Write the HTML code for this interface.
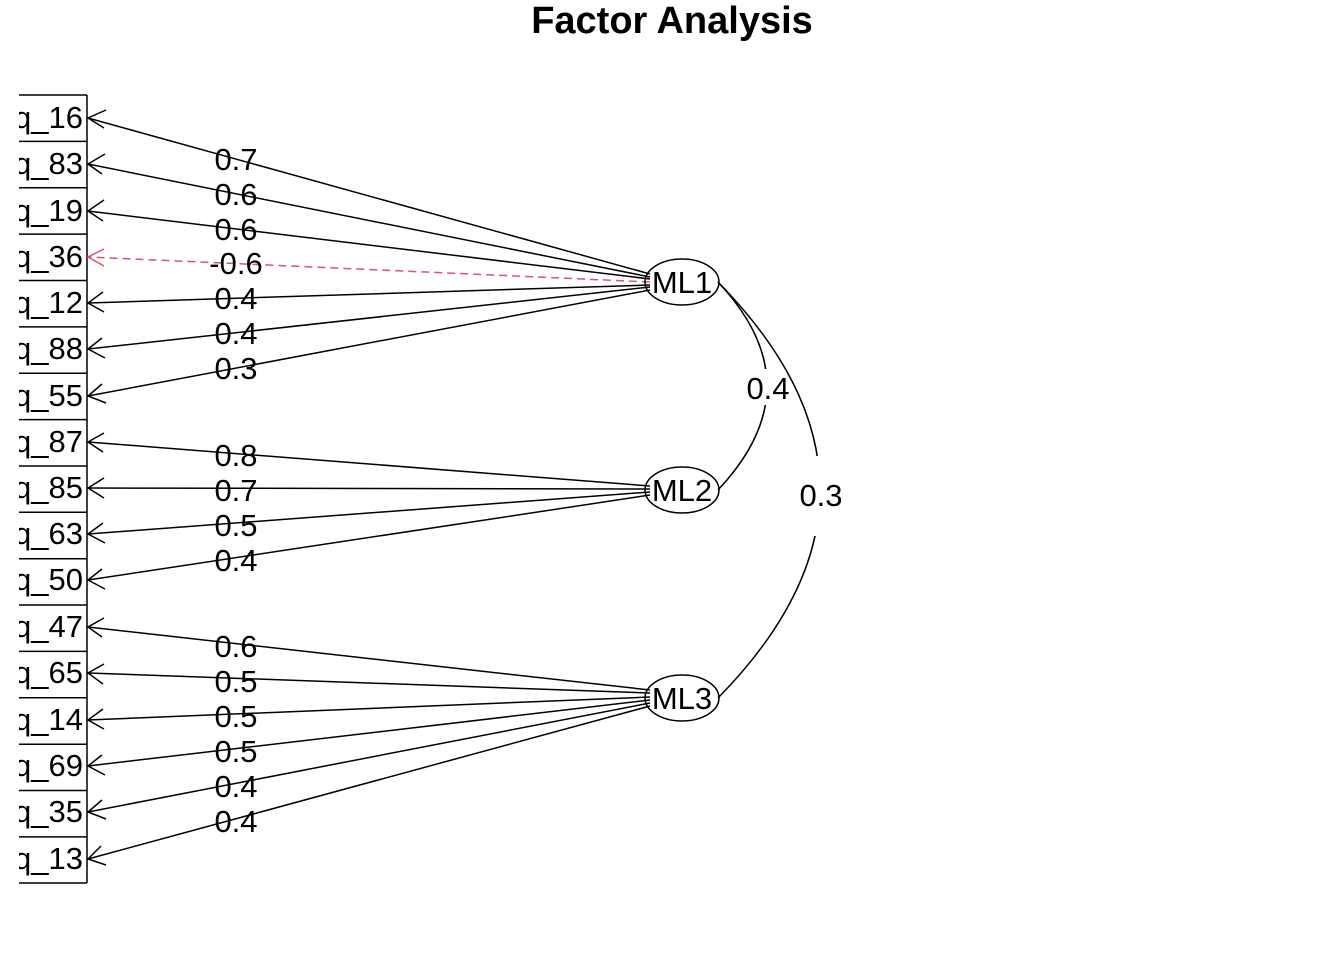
<!DOCTYPE html>
<html><head><meta charset="utf-8"><style>
html,body{margin:0;padding:0;background:#fff;}
svg{display:block;}
text{font-family:"Liberation Sans",Arial,sans-serif;}
</style></head><body>
<svg width="1344" height="960" viewBox="0 0 1344 960" xmlns="http://www.w3.org/2000/svg">
<defs>
<clipPath id="c"><rect x="19" y="0" width="1325" height="960"/></clipPath>
</defs>
<text x="672" y="33" text-anchor="middle" font-size="38" font-weight="bold">Factor Analysis</text>
<g stroke="#000" stroke-width="1.5" fill="none">
<line x1="87" y1="95" x2="87" y2="883"/>
<path d="M19 95H87M19 141.4H87M19 187.8H87M19 234.1H87M19 280.5H87M19 326.9H87M19 373.2H87M19 419.6H87M19 466H87M19 512.3H87M19 558.7H87M19 605H87M19 651.4H87M19 697.8H87M19 744.2H87M19 790.5H87M19 836.9H87M19 883H87"/>
</g>
<g clip-path="url(#c)" font-size="31" text-anchor="end">
<text x="83" y="128">q_16</text>
<text x="83" y="174">q_83</text>
<text x="83" y="221">q_19</text>
<text x="83" y="267">q_36</text>
<text x="83" y="313">q_12</text>
<text x="83" y="359">q_88</text>
<text x="83" y="406">q_55</text>
<text x="83" y="452">q_87</text>
<text x="83" y="498">q_85</text>
<text x="83" y="544">q_63</text>
<text x="83" y="590">q_50</text>
<text x="83" y="637">q_47</text>
<text x="83" y="683">q_65</text>
<text x="83" y="730">q_14</text>
<text x="83" y="776">q_69</text>
<text x="83" y="822">q_35</text>
<text x="83" y="869">q_13</text>
</g>
<g stroke="#000" stroke-width="1.5" fill="none">
<line x1="650" y1="274" x2="88" y2="118"/><path d="M106 110L88 118L104 128"/>
<line x1="650" y1="277" x2="88" y2="164"/><path d="M105 154L88 164L102 174"/>
<line x1="650" y1="279" x2="88" y2="211"/><path d="M104 200L88 211L103 221"/>
<line x1="650" y1="285" x2="88" y2="303"/><path d="M103 292L88 303L104 312"/>
<line x1="650" y1="287" x2="88" y2="349"/><path d="M102 338L88 349L105 358"/>
<line x1="650" y1="290" x2="88" y2="396"/><path d="M102 384L88 396L106 403"/>
<line x1="650" y1="486" x2="88" y2="442"/><path d="M104 433L88 442L103 452"/>
<line x1="650" y1="489" x2="88" y2="488"/><path d="M104 478L88 488L104 498"/>
<line x1="650" y1="492" x2="88" y2="534"/><path d="M103 523L88 534L105 543"/>
<line x1="650" y1="495" x2="88" y2="580"/><path d="M102 569L88 580L105 589"/>
<line x1="650" y1="690" x2="88" y2="627"/><path d="M104 618L88 627L102 637"/>
<line x1="650" y1="693" x2="88" y2="673"/><path d="M104 664L88 673L103 684"/>
<line x1="650" y1="697" x2="88" y2="720"/><path d="M103 709L88 720L104 729"/>
<line x1="650" y1="700" x2="88" y2="766"/><path d="M102 755L88 766L105 775"/>
<line x1="650" y1="703" x2="88" y2="812"/><path d="M102 800L88 812L106 819"/>
<line x1="650" y1="706" x2="88" y2="859"/><path d="M101 846L88 859L106 865"/>
</g>
<g stroke="#DF536B" stroke-width="1.5" fill="none" stroke-dasharray="8,5">
<line x1="650" y1="282" x2="88" y2="257"/>
</g>
<path d="M104 249L88 257L104 266" stroke="#DF536B" stroke-width="1.5" fill="none"/>
<g font-size="31" text-anchor="middle">
<text x="236" y="170">0.7</text>
<text x="236" y="205">0.6</text>
<text x="236" y="240">0.6</text>
<text x="236" y="274">-0.6</text>
<text x="236" y="309">0.4</text>
<text x="236" y="344">0.4</text>
<text x="236" y="379">0.3</text>
<text x="236" y="466">0.8</text>
<text x="236" y="501">0.7</text>
<text x="236" y="536">0.5</text>
<text x="236" y="571">0.4</text>
<text x="236" y="657">0.6</text>
<text x="236" y="692">0.5</text>
<text x="236" y="727">0.5</text>
<text x="236" y="762">0.5</text>
<text x="236" y="797">0.4</text>
<text x="236" y="832">0.4</text>
</g>
<g stroke="#000" stroke-width="1.5" fill="none">
<path d="M718 282Q816 386 718 490"/>
<path d="M718 282Q922 490 718 698"/>
</g>
<rect x="757" y="369" width="20" height="36" fill="#fff"/>
<rect x="797" y="456" width="48" height="80" fill="#fff"/>
<g font-size="31" text-anchor="middle">
<text x="768" y="399">0.4</text>
<text x="821" y="506">0.3</text>
</g>
<g stroke="#000" stroke-width="1.5" fill="none">
<ellipse cx="682" cy="282" rx="37" ry="23"/>
<ellipse cx="682" cy="490" rx="37" ry="23"/>
<ellipse cx="682" cy="698" rx="37" ry="23"/>
</g>
<g font-size="31" text-anchor="middle">
<text x="682" y="293">ML1</text>
<text x="682" y="501">ML2</text>
<text x="682" y="709">ML3</text>
</g>
</svg>
</body></html>
